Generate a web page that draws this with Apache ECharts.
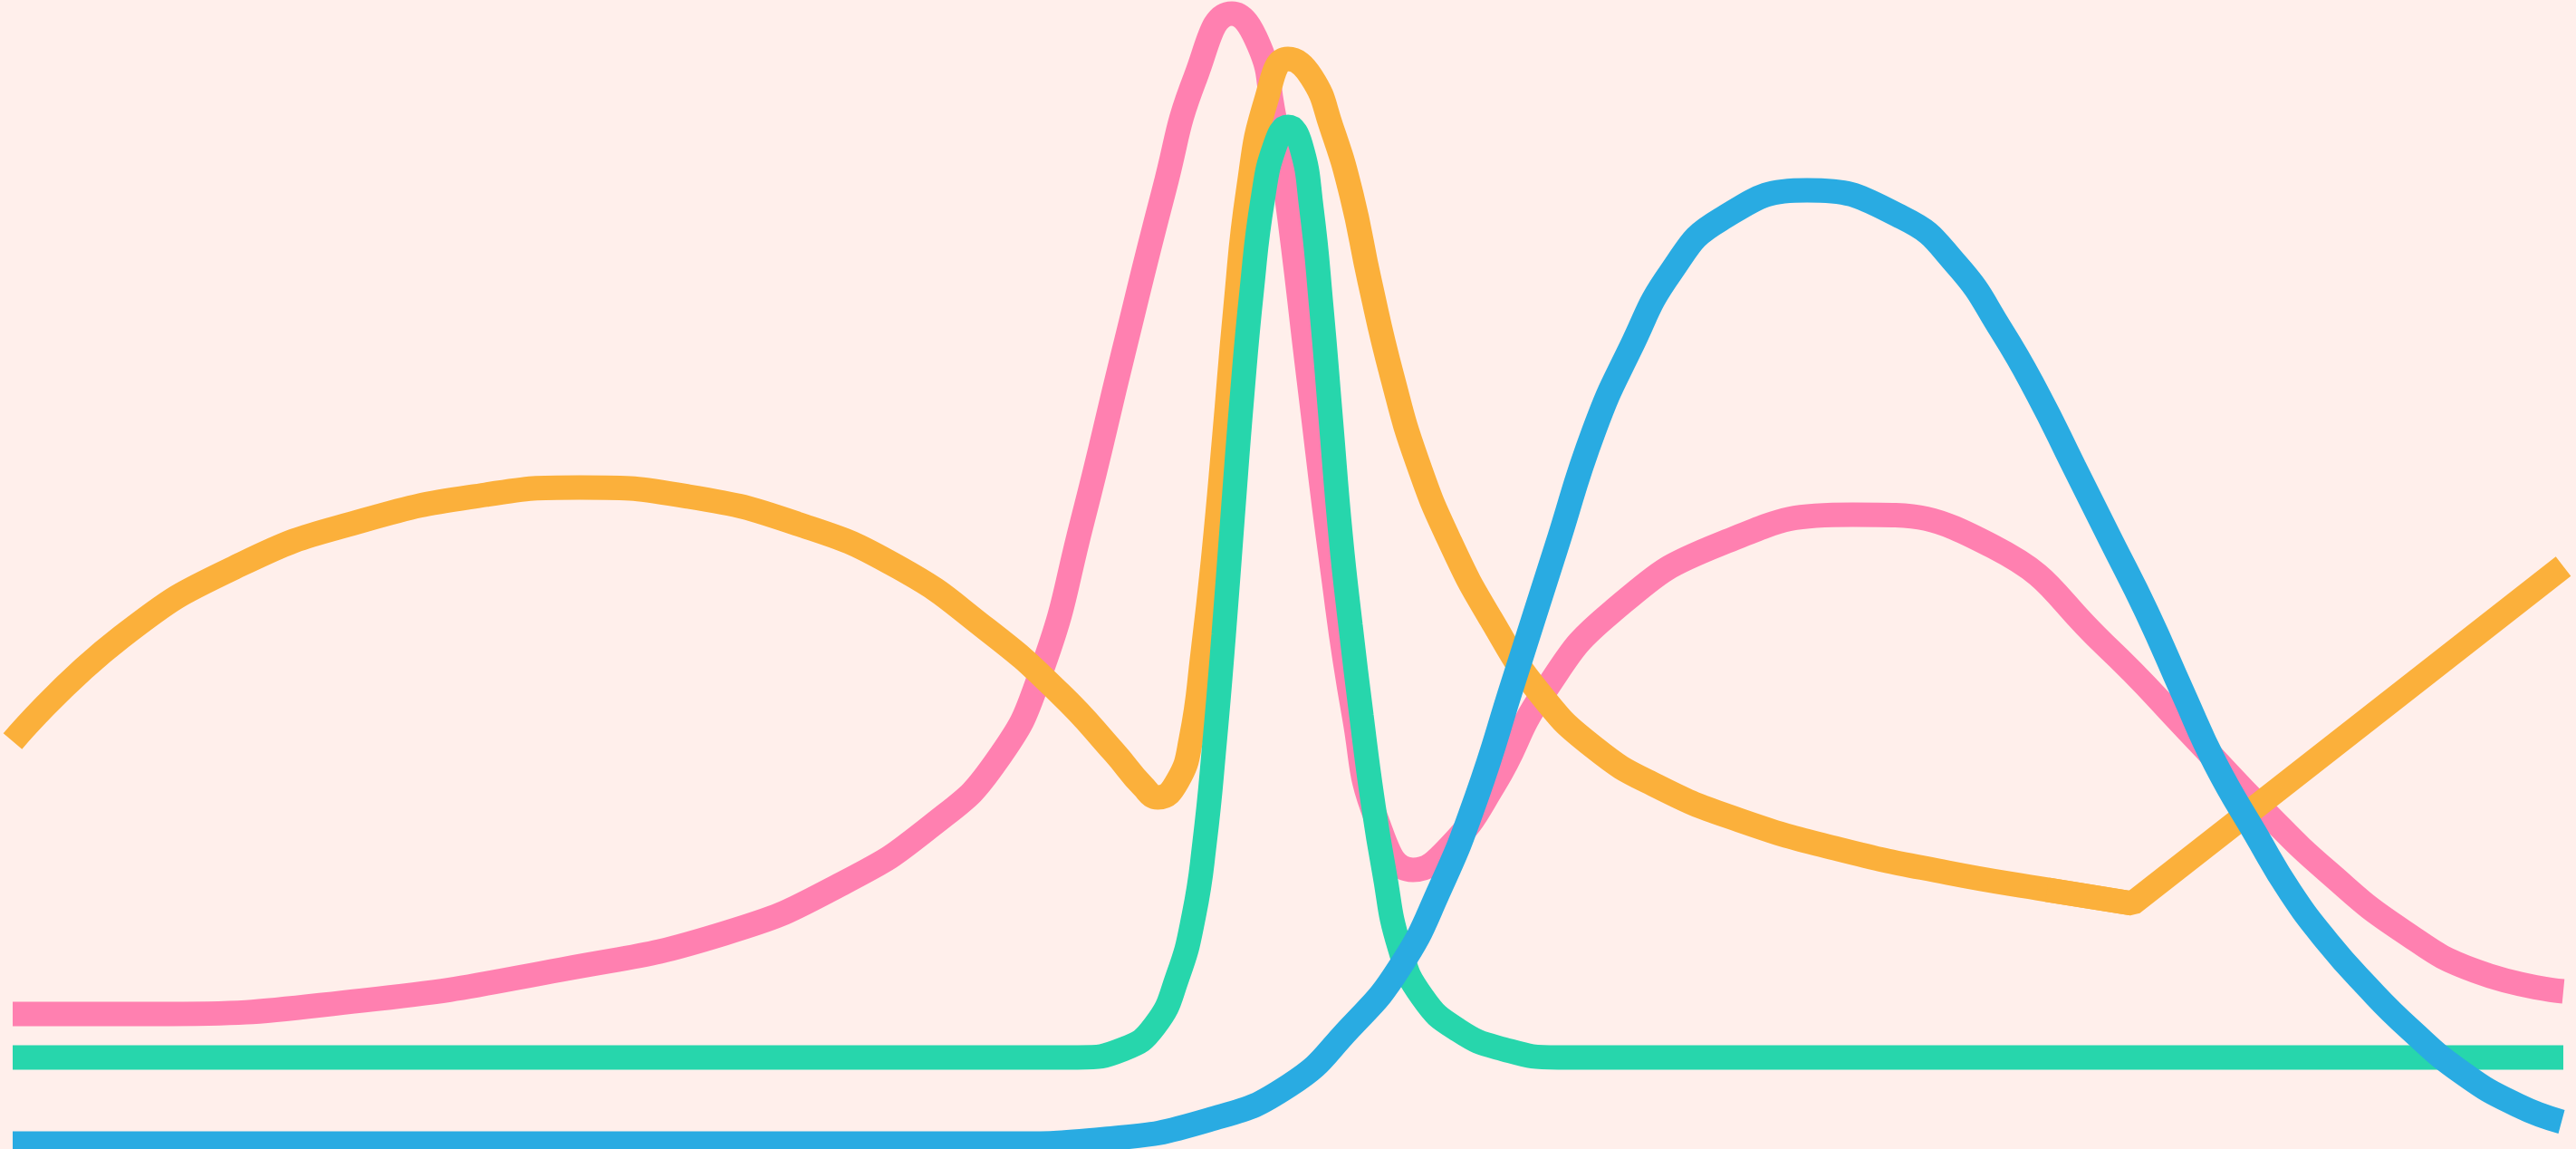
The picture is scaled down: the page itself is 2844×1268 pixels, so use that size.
<!DOCTYPE html>
<html>
<head>
<meta charset="utf-8">
<title>lines</title>
<script src="https://cdn.jsdelivr.net/npm/echarts@6/dist/echarts.min.js"></script>
<style>
    html, body {
        margin: 0;
        padding: 0;
        background: #ffefeb;
    }
    #chart {
        width: 2844px;
        height: 1268px;
    }
</style>
</head>
<body>
<div id="chart"></div>
<script>
// x runs 0-100 across the plot, y runs 0-100 from bottom to top
const pinkX = [0, 5.54, 13.71, 21.52, 27.91, 32.53, 36.08, 38.57, 40.34, 41.94, 43.54, 45.14,
    46.38, 47.80, 48.86, 49.40, 49.93, 50.82, 51.70, 52.59, 53.48, 54.90, 56.32, 58.10,
    60.01, 62.71, 66.97, 72.16, 77.63, 82.0, 85.51, 88.28, 90.77, 93.68, 96.59, 100];
const pinkY = [11.75, 11.75, 12.93, 15.62, 18.77, 23.11, 28.23, 33.75, 41.64, 54.65, 69.24, 83.44,
    93.30, 98.82, 96.06, 90.54, 83.20, 66.88, 51.10, 37.70, 28.63, 24.29, 26.26, 31.78,
    39.67, 46.77, 52.68, 55.21, 52.44, 43.93, 35.88, 29.42, 24.13, 19.01, 15.46, 13.72];

const orangeX = [0, 4.26, 9.02, 13.78, 18.54, 22.23, 26.49, 30.75, 34.66, 38.21, 41.05, 43.18,
    44.32, 44.9, 45.67, 46.20, 46.66, 47.09, 47.51, 47.94, 48.44, 49.15, 50.0, 50.92,
    51.70, 52.49, 53.20, 54.08, 55.08, 56.39, 57.95, 59.87, 62.00, 64.49, 67.68, 71.59,
    75.85, 79.76, 83.10];
const orangeY = [35.49, 44.56, 50.95, 54.73, 56.94, 57.57, 56.78, 54.42, 50.71, 45.19, 39.67, 34.54,
    31.55, 30.60, 32.02, 35.73, 43.22, 51.89, 62.15, 73.19, 83.44, 91.32, 94.87, 93.30,
    88.96, 83.04, 75.55, 67.27, 59.78, 52.68, 46.14, 39.67, 34.94, 31.55, 28.63, 26.10,
    24.05, 22.56, 21.37];

// the orange line turns at a sharp corner and ends in a straight run
const orangeTailX = [79.76, 83.10, 100];
const orangeTailY = [22.56, 21.37, 50.71];

const greenX = [0, 41.76, 43.54, 44.78, 45.67, 46.31, 46.73, 47.12, 47.48, 47.83, 48.19, 48.58,
    49.01, 49.50, 50.0, 50.50, 50.92, 51.31, 51.67, 52.06, 52.45, 52.88, 53.30, 53.76,
    54.37, 55.26, 56.68, 58.45, 60.58, 100];
const greenY = [7.97, 7.97, 8.68, 10.73, 14.98, 20.35, 26.66, 35.33, 44.79, 55.05, 65.30, 74.76,
    82.65, 87.38, 88.96, 87.38, 81.86, 73.19, 63.72, 53.47, 45.58, 37.70, 30.60, 24.29,
    17.59, 13.25, 10.33, 8.68, 7.97, 7.97];

const blueX = [0, 38.81, 42.83, 46.88, 50.04, 52.41, 54.37, 55.97, 57.39, 58.81, 60.51, 62.00,
    63.42, 65.02, 66.97, 70.35, 74.08, 76.21, 77.98, 79.40, 80.82, 82.24,
    83.66, 85.09, 86.36, 87.93, 89.31, 90.77, 92.22, 93.96, 96.09, 98.22, 99.93];
const blueY = [0.47, 0.47, 0.87, 2.52, 5.52, 10.49, 15.77, 22.71, 30.60, 40.46, 52.29, 62.54,
    69.64, 76.34, 80.91, 83.44, 81.07, 76.97, 71.21, 65.69, 59.38, 53.08,
    46.77, 39.67, 33.52, 27.44, 22.32, 17.98, 14.35, 10.49, 6.55, 3.79, 2.37];

const toPairs = (xs, ys) => xs.map((x, i) => [x, ys[i]]);

const lineSeries = (xs, ys, color, smooth) => ({
    type: "line",
    data: toPairs(xs, ys),
    smooth: smooth,
    symbol: "none",
    showSymbol: false,
    clip: false,
    lineStyle: {
        color: color,
        width: 27
    }
});

const myChart = echarts.init(document.getElementById("chart"));
myChart.setOption({
    backgroundColor: "#ffefeb",
    animation: false,
    grid: {
        left: 14,
        right: 14,
        top: 0,
        bottom: 0
    },
    xAxis: {
        type: "value",
        min: 0,
        max: 100,
        show: false
    },
    yAxis: {
        type: "value",
        min: 0,
        max: 100,
        show: false
    },
    series: [
        lineSeries(pinkX, pinkY, "#ff80b0", true),
        lineSeries(orangeX, orangeY, "#fbb03b", true),
        lineSeries(orangeTailX, orangeTailY, "#fbb03b", false),
        lineSeries(greenX, greenY, "#27d6ac", true),
        lineSeries(blueX, blueY, "#29abe2", true)
    ]
});
window.addEventListener("resize", () => myChart.resize());
</script>
</body>
</html>
